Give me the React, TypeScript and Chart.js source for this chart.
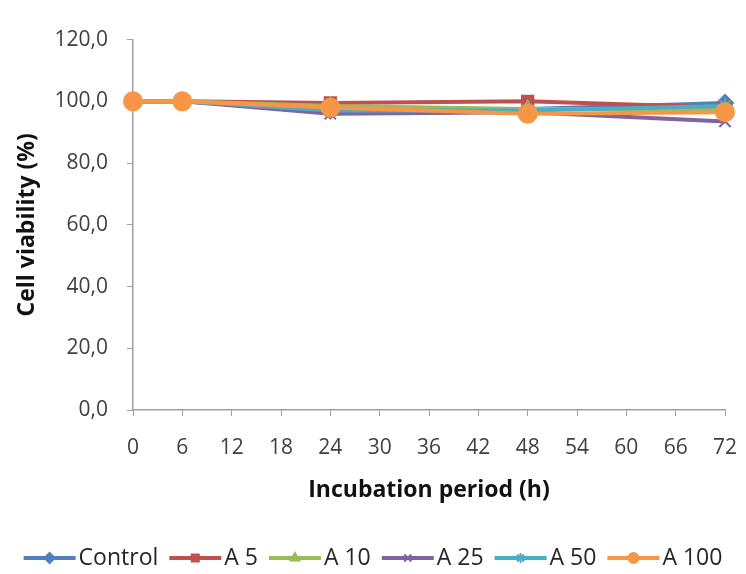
import React, { useEffect, useRef } from "react";
import { Chart, registerables } from "chart.js";
import { drawPoint } from "chart.js/helpers";

Chart.register(...registerables);

const hours = [0, 6, 24, 48, 72];
const xTicks = [0, 6, 12, 18, 24, 30, 36, 42, 48, 54, 60, 66, 72];
const yTicks = [0, 20, 40, 60, 80, 100, 120];

const seriesNames = ["Control", "A 5", "A 10", "A 25", "A 50", "A 100"];
const control = [100, 100, 97, 97.5, 99.5];
const a5 = [100, 100, 99.5, 100, 98];
const a10 = [100, 100, 98.5, 97.5, 97.5];
const a25 = [100, 100, 96, 96.5, 93.5];
const a50 = [100, 100, 97, 97, 98.5];
const a100 = [100, 100, 98, 96, 96.5];

const seriesValues = [control, a5, a10, a25, a50, a100];
const colors = ["#4F81BD", "#C0504D", "#9BBB59", "#8064A2", "#4BACC6", "#F79646"];
const pointStyles = ["rectRot", "rect", "triangle", "crossRot", "star", "circle"];
const pointRadii = [8, 8, 8, 8, 8, 9];

const FONT = "'Open Sans', 'Liberation Sans', sans-serif";

const legendPlugin = {
  id: "excelLegend",
  afterDraw(chart: any) {
    const ctx = chart.ctx;
    const y = chart.height - 8;
    ctx.save();
    ctx.font = `23px ${FONT}`;
    const lineLen = 52;
    const gap = 3;
    const itemGap = 11;
    const widths = seriesNames.map((n) => lineLen + gap + ctx.measureText(n).width);
    const total = widths.reduce((a, b) => a + b, 0) + itemGap * (seriesNames.length - 1);
    let x = (chart.width - total) / 2;
    seriesNames.forEach((name, i) => {
      ctx.strokeStyle = colors[i];
      ctx.fillStyle = colors[i];
      ctx.lineWidth = 4;
      ctx.beginPath();
      ctx.moveTo(x, y);
      ctx.lineTo(x + lineLen, y);
      ctx.stroke();
      ctx.lineWidth = 2;
      drawPoint(
        ctx,
        { pointStyle: pointStyles[i], radius: 5, borderWidth: 2, rotation: 0 } as any,
        x + lineLen / 2,
        y
      );
      ctx.fillStyle = "#262626";
      ctx.textBaseline = "middle";
      ctx.textAlign = "left";
      ctx.font = `23px ${FONT}`;
      ctx.fillText(name, x + lineLen + gap, y);
      x += widths[i] + itemGap;
    });
    ctx.restore();
  },
  beforeDraw(chart: any) {
    const ctx = chart.ctx;
    ctx.save();
    ctx.fillStyle = "#ffffff";
    ctx.fillRect(0, 0, chart.width, chart.height);
    ctx.restore();
  },
};

export default function App() {
  const ref = useRef<HTMLCanvasElement>(null);
  useEffect(() => {
    if (!ref.current) return;
    const datasets = seriesNames.map((name, i) => ({
      label: name,
      data: hours.map((h, j) => ({ x: h, y: seriesValues[i][j] })),
      borderColor: colors[i],
      backgroundColor: colors[i],
      pointBackgroundColor: colors[i],
      pointBorderColor: colors[i],
      pointStyle: pointStyles[i],
      pointRadius: pointRadii[i],
      pointBorderWidth: 2,
      borderWidth: 4,
      tension: 0,
      clip: false,
      order: seriesNames.length - i,
    }));
    const chart = new Chart(ref.current, {
      type: "line",
      data: { datasets },
      plugins: [legendPlugin],
      options: {
        animation: false,
        responsive: true,
        maintainAspectRatio: false,
        layout: { padding: { top: 0, right: 13, bottom: 56, left: 0 } },
        plugins: { legend: { display: false }, tooltip: { enabled: false } },
        scales: {
          x: {
            type: "linear",
            min: 0,
            max: 72,
            afterBuildTicks: (s: any) => {
              s.ticks = xTicks.map((v) => ({ value: v }));
            },
            afterFit: (s: any) => {
              s.height = 100;
              s.paddingRight = 0;
              s.paddingLeft = 0;
            },
            ticks: {
              font: { family: FONT, size: 21 },
              color: "#404040",
              padding: 19,
              maxRotation: 0,
              autoSkip: false,
              callback: (v: any) => String(v),
            },
            grid: {
              drawOnChartArea: false,
              drawTicks: true,
              tickLength: 6,
              color: "#A0A0A0",
            },
            border: { color: "#A0A0A0", width: 1.5 },
            title: {
              display: true,
              text: "Incubation period (h)",
              font: { family: FONT, size: 23, weight: "bold" },
              color: "#111111",
              padding: { top: 4, bottom: 6 },
            },
          },
          y: {
            type: "linear",
            min: 0,
            max: 120,
            afterBuildTicks: (s: any) => {
              s.ticks = yTicks.map((v) => ({ value: v }));
            },
            afterFit: (s: any) => {
              s.width = 125;
            },
            ticks: {
              font: { family: FONT, size: 21 },
              color: "#404040",
              padding: 19,
              callback: (v: any) => Number(v).toFixed(1).replace(".", ","),
            },
            grid: {
              drawOnChartArea: false,
              drawTicks: true,
              tickLength: 6,
              color: "#A0A0A0",
            },
            border: { color: "#A0A0A0", width: 1.5 },
            title: {
              display: true,
              text: "Cell viability (%)",
              font: { family: FONT, size: 23, weight: "bold" },
              color: "#111111",
              padding: { top: 6, bottom: 0 },
            },
          },
        },
      },
    });
    return () => chart.destroy();
  }, []);
  return (
    <div style={{ width: 730, height: 558, position: "relative" }}>
      <canvas ref={ref} />
    </div>
  );
}
